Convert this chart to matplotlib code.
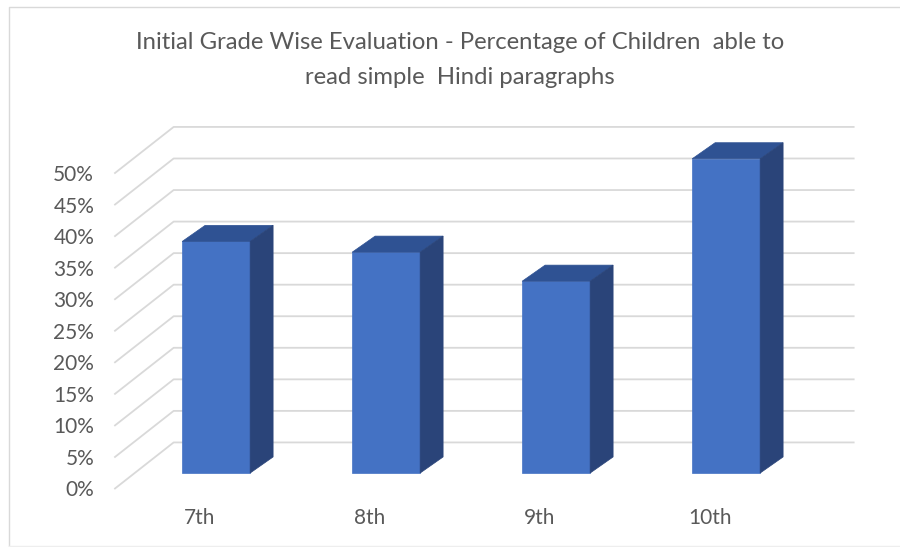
import matplotlib.pyplot as plt
from matplotlib.patches import Polygon
from matplotlib.lines import Line2D

# values
grades = ["7th", "8th", "9th", "10th"]
percent = [36.7, 35, 30.4, 49.8]
ticks = [0, 5, 10, 15, 20, 25, 30, 35, 40, 45, 50]
tick_labels = ["0%", "5%", "10%", "15%", "20%", "25%", "30%", "35%", "40%", "45%", "50%"]

title = "Initial Grade Wise Evaluation - Percentage of Children  able to\nread simple  Hindi paragraphs"

W, H = 900, 547
plt.rcParams["font.family"] = ["Lato", "DejaVu Sans"]

fig = plt.figure(figsize=(W / 100, H / 100), dpi=100)
# axes = front edge of the fake 3d floor
ax = fig.add_axes([115 / W, 1 - 488.5 / H, 680 / W, 315.5 / H])
ax.set_xlim(-0.5, 3.5)
ax.set_ylim(0, 50)
for s in ax.spines.values():
    s.set_visible(False)
ax.patch.set_visible(False)

# offsets in data units for the fake depth
wall_dx, wall_dy = 0.345, 7.3
bar_dx, bar_dy = 0.095, 2.45
side_dx, side_dy = 0.135, 2.55
bar_w = 0.4

grid_c = "#d9d9d9"
for t in ticks:
    ax.plot([-0.5, -0.5 + wall_dx, 3.5 + wall_dx], [t, t + wall_dy, t + wall_dy],
            color=grid_c, lw=1.3, clip_on=False, zorder=1)

# bars: front, top and side faces
for i, v in enumerate(percent):
    x0 = i + bar_dx - bar_w / 2
    x1 = x0 + bar_w
    y0 = bar_dy
    y1 = bar_dy + v
    ax.add_patch(Polygon([(x0, y0), (x1, y0), (x1, y1), (x0, y1)], fc="#4472c4", ec="#4472c4",
                         lw=0.5, clip_on=False, zorder=3))
    ax.add_patch(Polygon([(x0, y1), (x1, y1), (x1 + side_dx, y1 + side_dy), (x0 + side_dx, y1 + side_dy)],
                         fc="#2f5293", ec="#2f5293", lw=0.5, clip_on=False, zorder=3))
    ax.add_patch(Polygon([(x1, y0), (x1 + side_dx, y0 + side_dy), (x1 + side_dx, y1 + side_dy), (x1, y1)],
                         fc="#2a4479", ec="#2a4479", lw=0.5, clip_on=False, zorder=3))

ax.set_xticks(range(len(grades)))
ax.set_xticklabels(grades)
ax.set_yticks(ticks)
ax.set_yticklabels(tick_labels)
ax.tick_params(axis="x", length=0, pad=14, labelsize=15, labelcolor="#595959")
ax.tick_params(axis="y", length=0, pad=15, labelsize=15, labelcolor="#595959")

fig.text(460 / W, 1 - 60 / H, title, ha="center", va="center", fontsize=17.2,
         color="#595959", linespacing=1.85)

# chart frame
fig.add_artist(Line2D([9 / W, 9 / W, 1], [0, 1 - 7 / H, 1 - 7 / H], color="#d9d9d9", lw=1))
fig.add_artist(Line2D([9 / W, 1], [1 / H, 1 / H], color="#eeeeee", lw=1))

fig.savefig("out.png", dpi=100)
